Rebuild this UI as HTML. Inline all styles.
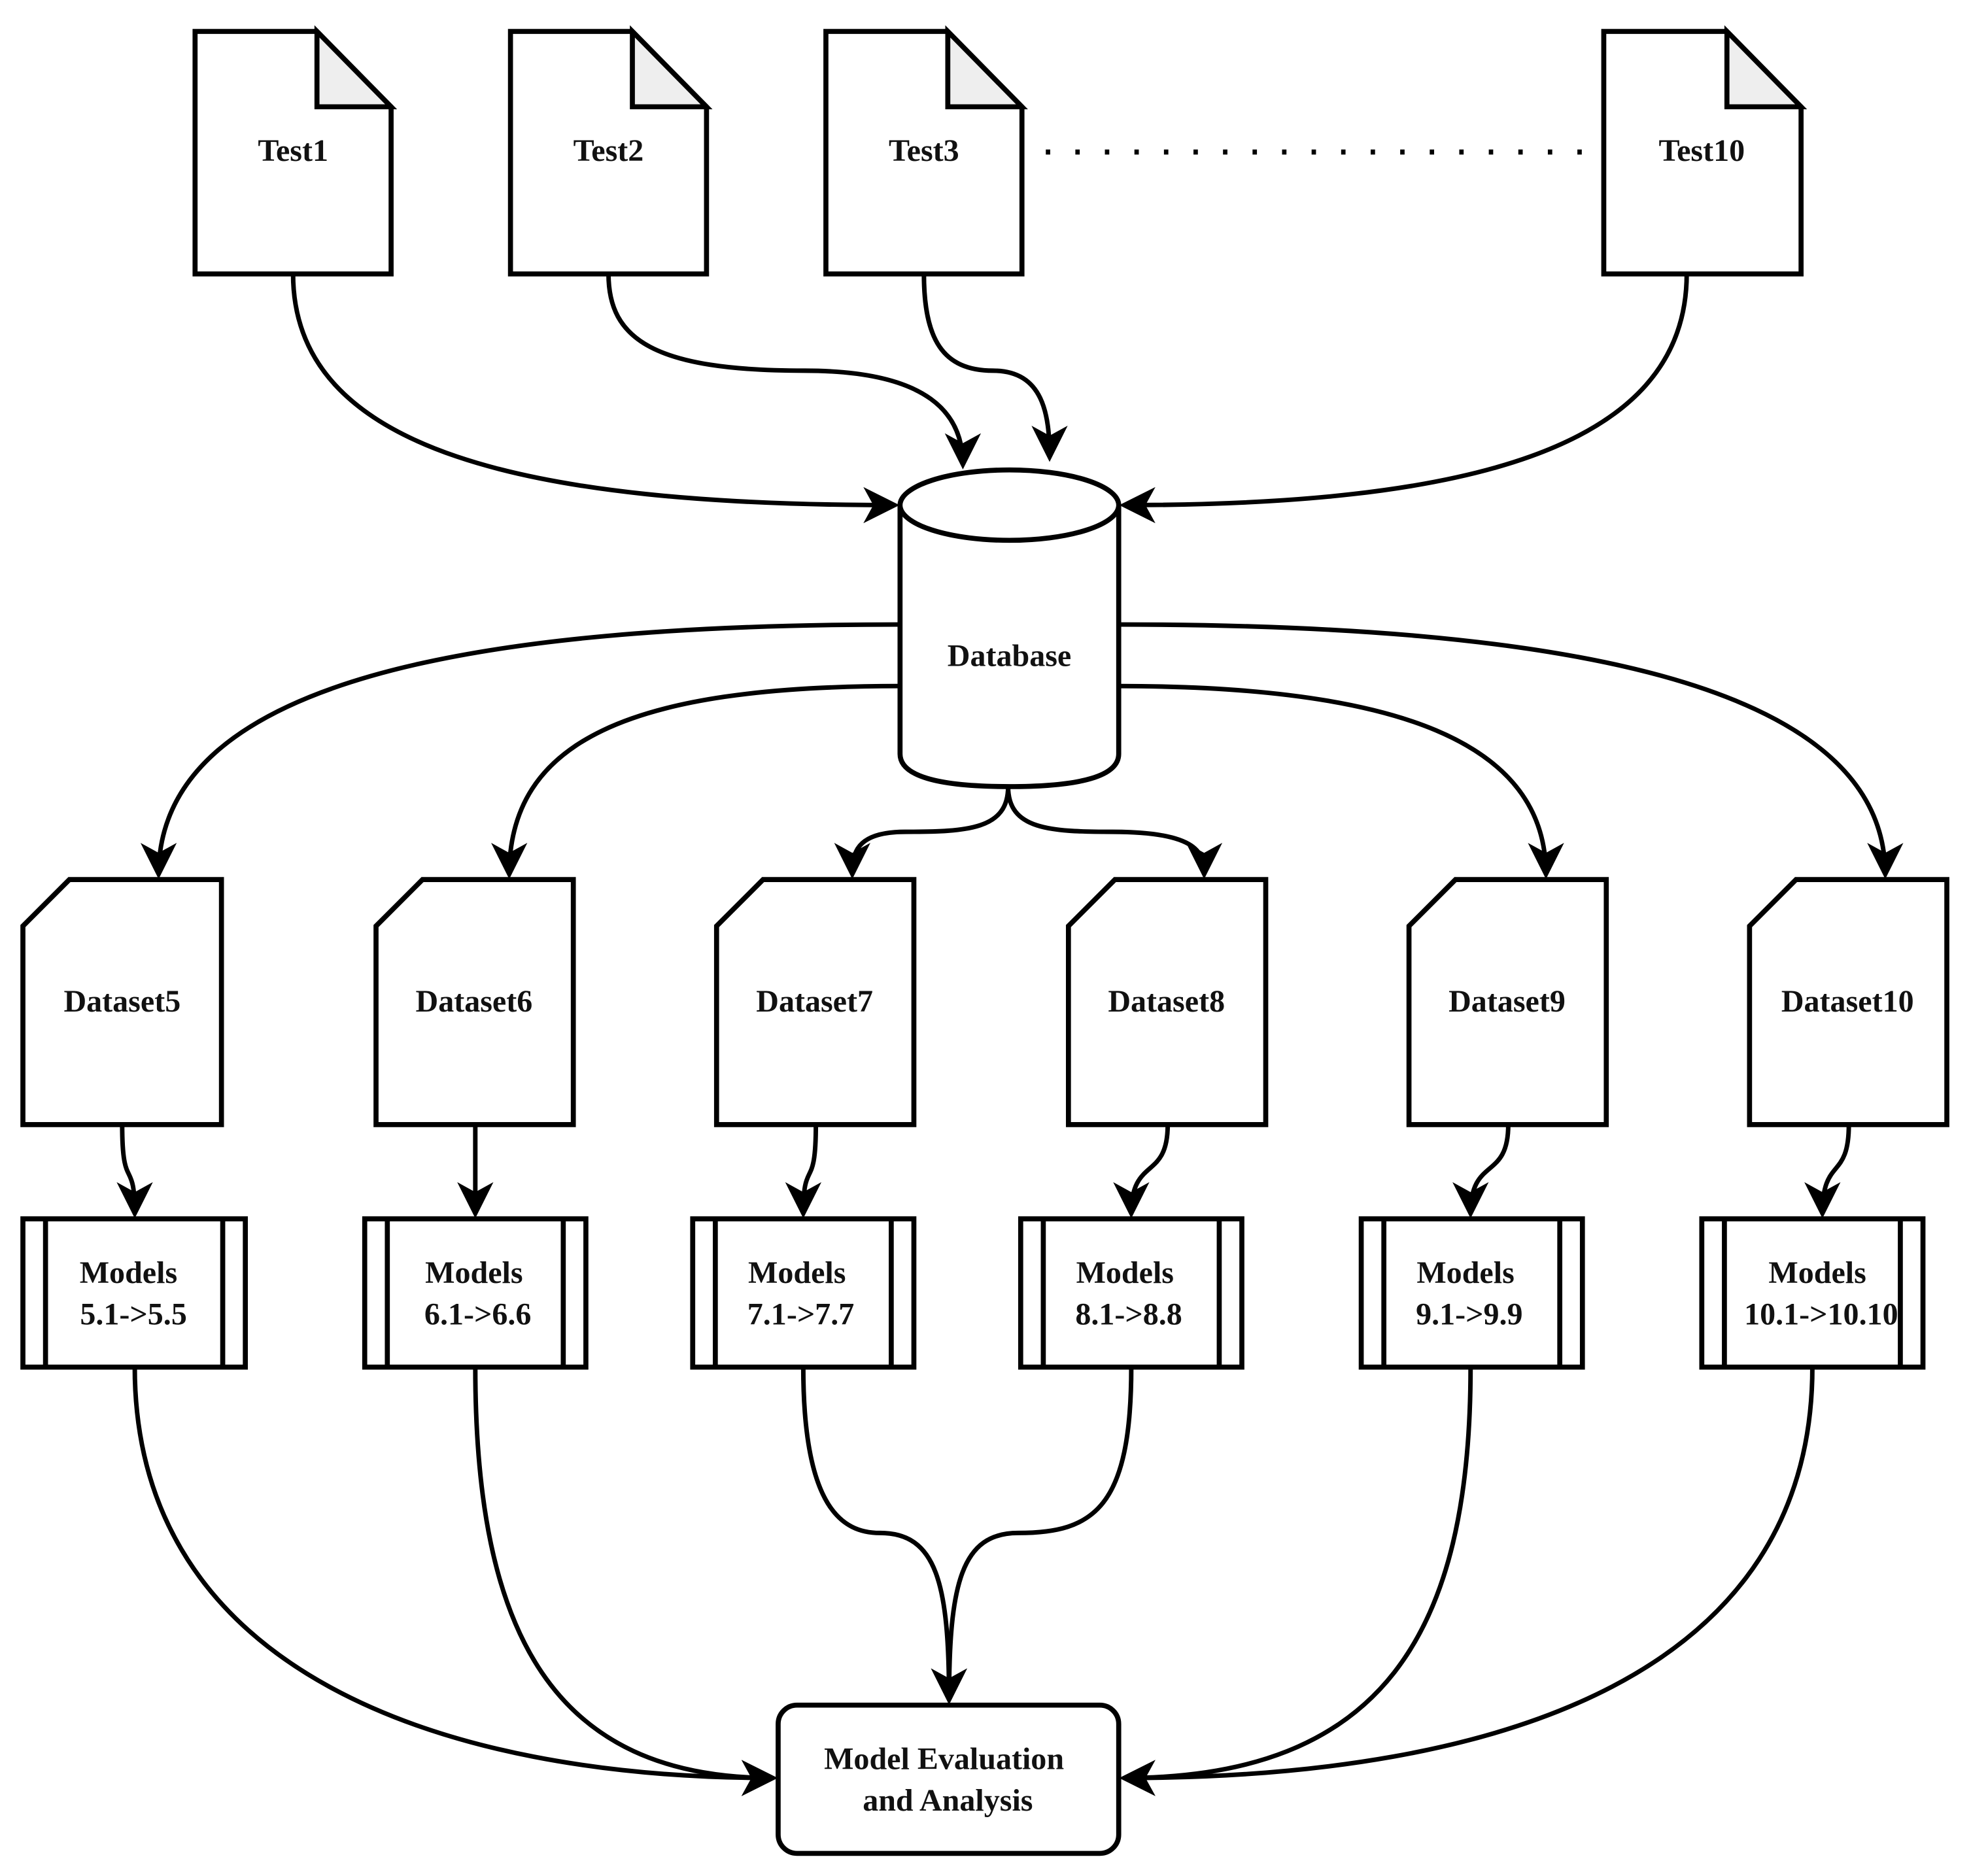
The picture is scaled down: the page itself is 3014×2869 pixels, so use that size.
<!DOCTYPE html>
<html><head><meta charset="utf-8"><style>html,body{margin:0;padding:0;background:#fff}svg{display:block}</style></head>
<body>
<svg width="3014" height="2869" viewBox="0 0 1568 1493" xmlns="http://www.w3.org/2000/svg" font-family="Liberation Serif, serif" font-weight="bold">
<defs>
<marker id="a" markerWidth="8" markerHeight="8" refX="7" refY="4" orient="auto" markerUnits="strokeWidth">
<path d="M0,0 L8,4 L0,8 L2.2,4 Z" fill="#000"/></marker>
</defs>
<rect width="1568" height="1493" fill="#fff"/>
<g fill="none" stroke="#000" stroke-width="4" stroke-linejoin="miter">
<path d="M155,25 H252 L311,85 V218 H155 Z" fill="#fff"/>
<path d="M252,25 V85 H311 Z" fill="#eee"/>
<path d="M406,25 H503 L562,85 V218 H406 Z" fill="#fff"/>
<path d="M503,25 V85 H562 Z" fill="#eee"/>
<path d="M657,25 H754 L813,85 V218 H657 Z" fill="#fff"/>
<path d="M754,25 V85 H813 Z" fill="#eee"/>
<path d="M1276,25 H1374 L1433,85 V218 H1276 Z" fill="#fff"/>
<path d="M1374,25 V85 H1433 Z" fill="#eee"/>
<line x1="832" y1="121" x2="1272" y2="121" stroke-dasharray="3.5 20" stroke-width="4"/>
<path d="M716,402 V600 Q716,626 803,626 Q890,626 890,600 V402" fill="#fff"/>
<ellipse cx="803" cy="402" rx="87" ry="28" fill="#fff"/>
<path d="M55,700 H176 V895 H18 V737 Z"/>
<path d="M336,700 H456 V895 H299 V737 Z"/>
<path d="M607,700 H727 V895 H570 V737 Z"/>
<path d="M887,700 H1007 V895 H850 V737 Z"/>
<path d="M1158,700 H1278 V895 H1121 V737 Z"/>
<path d="M1429,700 H1549 V895 H1392 V737 Z"/>
<g>
<rect x="18" y="970" width="177" height="118"/><line x1="36" y1="970" x2="36" y2="1088"/><line x1="177" y1="970" x2="177" y2="1088"/>
<rect x="290" y="970" width="176" height="118"/><line x1="308" y1="970" x2="308" y2="1088"/><line x1="448" y1="970" x2="448" y2="1088"/>
<rect x="551" y="970" width="176" height="118"/><line x1="569" y1="970" x2="569" y2="1088"/><line x1="709" y1="970" x2="709" y2="1088"/>
<rect x="812" y="970" width="176" height="118"/><line x1="830" y1="970" x2="830" y2="1088"/><line x1="970" y1="970" x2="970" y2="1088"/>
<rect x="1083" y="970" width="176" height="118"/><line x1="1101" y1="970" x2="1101" y2="1088"/><line x1="1241" y1="970" x2="1241" y2="1088"/>
<rect x="1354" y="970" width="176" height="118"/><line x1="1372" y1="970" x2="1372" y2="1088"/><line x1="1512" y1="970" x2="1512" y2="1088"/>
</g>
<rect x="619" y="1357" width="271" height="118" rx="15"/>
<g marker-end="url(#a)" stroke-width="3.6">
<path d="M233,218 C233,360 420,402 712,402"/>
<path d="M484,218 C484,270 520,295 640,295 C740,295 766,330 766,370"/>
<path d="M735,218 C735,270 750,295 790,295 C830,295 835,330 835,364"/>
<path d="M1342,218 C1342,360 1160,402 894,402"/>
<path d="M716,497 C380,497 126,540 126,696"/>
<path d="M716,546 C500,546 405,590 405,696"/>
<path d="M802,626 C802,660 770,662 720,662 C680,662 678,680 678,696"/>
<path d="M802,626 C802,660 835,662 885,662 C955,662 958,680 958,696"/>
<path d="M890,497 C1230,497 1500,540 1500,696"/>
<path d="M890,546 C1110,546 1230,590 1230,696"/>
<path d="M97,895 C97,950 107,920 107,966"/>
<path d="M378,895 V966"/>
<path d="M649,895 C649,950 639,920 639,966"/>
<path d="M929,895 C929,940 900,920 900,966"/>
<path d="M1200,895 C1200,940 1170,920 1170,966"/>
<path d="M1471,895 C1471,940 1450,920 1450,966"/>
<path d="M107,1088 C107,1330 350,1415 615,1415"/>
<path d="M378,1088 C378,1300 440,1415 615,1415"/>
<path d="M639,1088 C639,1200 670,1220 700,1220 C745,1220 755,1260 755,1353"/>
<path d="M900,1088 C900,1200 870,1220 810,1220 C765,1220 755,1260 755,1353"/>
<path d="M1170,1088 C1170,1300 1100,1415 894,1415"/>
<path d="M1442,1088 C1442,1330 1200,1415 894,1415"/>
</g>
</g>
<g font-size="25" text-anchor="middle" fill="#111">
<text x="233" y="128">Test1</text>
<text x="484" y="128">Test2</text>
<text x="735" y="128">Test3</text>
<text x="1354" y="128">Test10</text>
<text x="803" y="530">Database</text>
<text x="97" y="805">Dataset5</text>
<text x="377" y="805">Dataset6</text>
<text x="648" y="805">Dataset7</text>
<text x="928" y="805">Dataset8</text>
<text x="1199" y="805">Dataset9</text>
<text x="1470" y="805">Dataset10</text>
<text x="102" y="1021">Models</text><text x="106" y="1054">5.1-&gt;5.5</text>
<text x="377" y="1021">Models</text><text x="380" y="1054">6.1-&gt;6.6</text>
<text x="634" y="1021">Models</text><text x="637" y="1054">7.1-&gt;7.7</text>
<text x="895" y="1021">Models</text><text x="898" y="1054">8.1-&gt;8.8</text>
<text x="1166" y="1021">Models</text><text x="1169" y="1054">9.1-&gt;9.9</text>
<text x="1446" y="1021">Models</text><text x="1449" y="1054">10.1-&gt;10.10</text>
<text x="751" y="1408">Model Evaluation</text>
<text x="754" y="1441">and  Analysis</text>
</g>
</svg>
</body></html>
